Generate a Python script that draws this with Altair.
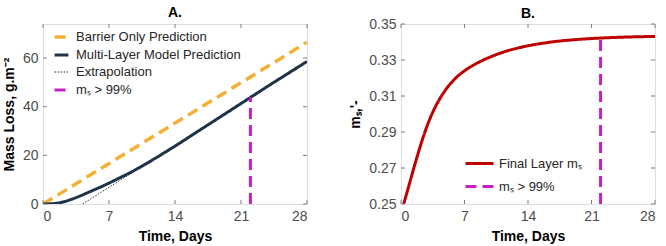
import altair as alt
import pandas as pd

FONT = "Liberation Sans"

# ---------------- Panel A data ----------------
barrier_t = [0, 28]
barrier_v = [0, 66.5]

model_t = [0, 1, 2, 3, 4, 5, 6, 7, 8, 9, 10, 11, 12, 13, 14, 16, 18, 20, 22, 24, 26, 28]
model_v = [0, 0.15, 0.7, 1.9, 3.4, 5.1, 6.8, 8.6, 10.5, 12.4, 14.5, 16.7, 19.0, 21.4, 23.8,
           28.8, 33.8, 38.8, 43.8, 48.8, 53.7, 58.6]

extrap_t = [4.2, 28]
extrap_v = [0, 58.4]

ms99a_t = [22, 22]
ms99a_v = [0, 43.8]

# ---------------- Panel B data ----------------
final_t = [0.3, 1, 1.5, 2, 2.5, 3, 3.5, 4, 4.5, 5, 6, 7, 8, 9, 10, 11, 12, 13, 14, 16, 18,
           20, 22, 24, 26, 28]
final_v = [0.25, 0.2625, 0.2715, 0.28, 0.288, 0.295, 0.301, 0.306, 0.3103, 0.314, 0.3198,
           0.324, 0.3272, 0.3298, 0.332, 0.3339, 0.3355, 0.3368, 0.3379, 0.3396, 0.3408,
           0.3416, 0.3422, 0.3426, 0.3429, 0.3431]

ms99b_t = [22, 22]
ms99b_v = [0.25, 0.3422]

x_ticks = [0, 7, 14, 21, 28]
ya_ticks = [0, 20, 40, 60]
yb_ticks = [0.25, 0.27, 0.29, 0.31, 0.33, 0.35]

names_a = ["Barrier Only Prediction", "Multi-Layer Model Prediction", "Extrapolation", "mₛ > 99%"]
colors_a = ["#F2B134", "#1F3247", "#1F3247", "#C81EC8"]
dash_a = [[11, 6], [1, 0], [1.5, 1.5], [11, 6]]
width_a = [3.5, 3, 1, 3]

names_b = ["Final Layer mₛ", "mₛ > 99% "]
colors_b = ["#C00000", "#C81EC8"]
dash_b = [[1, 0], [11, 6]]
width_b = [3, 3]

GRAY = "#7f7f7f"

rows = []
for nm, (tt, vv) in zip([names_a[0], names_a[2], names_a[1], names_a[3]],
                        [(barrier_t, barrier_v), (extrap_t, extrap_v),
                         (model_t, model_v), (ms99a_t, ms99a_v)]):
    for k, (a, b) in enumerate(zip(tt, vv)):
        rows.append({"t": a, "v": b, "series": nm, "o": k})
dfa = pd.DataFrame(rows)

rows = []
for nm, (tt, vv) in zip(names_b, [(final_t, final_v), (ms99b_t, ms99b_v)]):
    for k, (a, b) in enumerate(zip(tt, vv)):
        rows.append({"t": a, "v": b, "series": nm, "o": k})
dfb = pd.DataFrame(rows)

AXIS = dict(labelFont=FONT, labelFontSize=14, labelColor="#4d4d4d", titleFont=FONT,
            titleFontSize=14, titleFontWeight="bold", titleColor="#000000", domain=False,
            ticks=False, grid=False, labelPadding=5, titlePadding=6, labelOverlap=False,
            labelBound=False)


def panel(df, names, colors, dashes, widths, ydom, yticks, yfmt, ytitle, title, W, H,
          lx, ly, rowpad, loff, stype, ssize, toff):
    xs = alt.Scale(domain=[0, 28], nice=False, zero=False)
    ys = alt.Scale(domain=ydom, nice=False, zero=False)
    xax = alt.Axis(values=x_ticks, title="Time, Days", **AXIS)
    yax = alt.Axis(values=yticks, format=yfmt, title=ytitle, **AXIS)
    leg = alt.Legend(title=None, orient="none", legendX=lx, legendY=ly,
                     symbolType=stype, symbolSize=ssize, rowPadding=rowpad,
                     labelFont=FONT, labelFontSize=13, labelColor="#262626", padding=0,
                     labelOffset=loff, labelLimit=400)
    lines = alt.Chart(df).mark_line(interpolate="monotone", clip=True).encode(
        x=alt.X("t:Q", scale=xs, axis=xax),
        y=alt.Y("v:Q", scale=ys, axis=yax),
        color=alt.Color("series:N", scale=alt.Scale(domain=names, range=colors), legend=leg),
        strokeDash=alt.StrokeDash("series:N", scale=alt.Scale(domain=names, range=dashes), legend=leg),
        strokeWidth=alt.StrokeWidth("series:N", scale=alt.Scale(type="ordinal", domain=names, range=widths), legend=leg),
        order="o:Q",
    )
    xt = pd.DataFrame({"t": x_ticks})
    yt = pd.DataFrame({"v": yticks})
    tb = alt.Chart(xt).mark_rule(color=GRAY, strokeWidth=1).encode(
        x=alt.X("t:Q", scale=xs, axis=xax), y=alt.value(H), y2=alt.value(H - 4))
    tt_ = alt.Chart(xt).mark_rule(color=GRAY, strokeWidth=1).encode(
        x=alt.X("t:Q", scale=xs, axis=xax), y=alt.value(0), y2=alt.value(4))
    tl = alt.Chart(yt).mark_rule(color=GRAY, strokeWidth=1).encode(
        y=alt.Y("v:Q", scale=ys, axis=yax), x=alt.value(0), x2=alt.value(4))
    tr = alt.Chart(yt).mark_rule(color=GRAY, strokeWidth=1).encode(
        y=alt.Y("v:Q", scale=ys, axis=yax), x=alt.value(W - 4), x2=alt.value(W))
    return alt.layer(lines, tb, tt_, tl, tr).properties(
        width=W, height=H,
        title=alt.TitleParams(title, fontSize=14, fontWeight="bold", font=FONT, offset=toff,
                              color="#000000"))


pa = panel(dfa, names_a, colors_a, dash_a, width_a, [0, 74], ya_ticks, "d",
           "Mass Loss, g.m⁻²", "A.", 264, 180, 8, 2.5, 0, 4, "M-0.8,0H0.8", 300, 4)
pb = panel(dfb, names_b, colors_b, dash_b, width_b, [0.25, 0.35], yb_ticks, ".2f",
           "mₛ,'-", "B.", 254, 180, 63, 124, 0, 4, "stroke", 784, -4)

chart = alt.hconcat(pa, pb, spacing=40).resolve_scale(
    color="independent", strokeDash="independent", strokeWidth="independent"
).properties(padding={"left": 1, "top": 5, "right": 5, "bottom": 2}).configure_view(
    stroke=GRAY, strokeWidth=1).configure(background="white")

chart.save("out.html", embed_options={"renderer": "svg", "actions": False})
